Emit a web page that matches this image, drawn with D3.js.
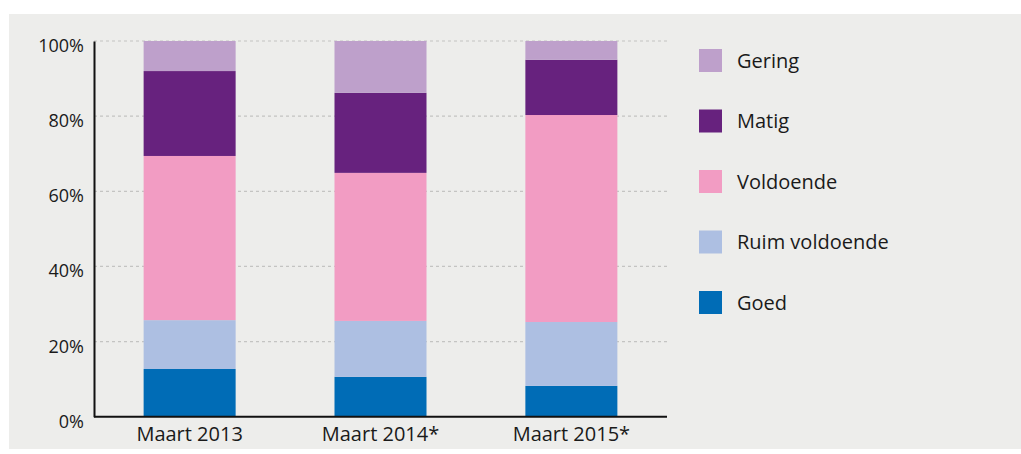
<!DOCTYPE html>
<html>
<head>
<meta charset="utf-8">
<script src="https://cdn.jsdelivr.net/npm/d3@7"></script>
<style>
  html, body { margin: 0; padding: 0; background: #ffffff; }
  svg { display: block; }
  text { font-family: "Open Sans", "Noto Sans", sans-serif; fill: #1a1a1a; }
</style>
</head>
<body>
<svg id="chart" width="1021" height="454"></svg>
<script>
// Periods on the x axis
const categories = ["Maart 2013", "Maart 2014*", "Maart 2015*"];

// Share (%) per rating, stacked bottom to top
const goed           = [12.7, 10.6, 8.2];
const ruimVoldoende  = [13.0, 14.9, 17.0];
const voldoende      = [43.7, 39.4, 55.1];
const matig          = [22.6, 21.3, 14.7];
const gering         = [8.0, 13.8, 5.0];

const seriesNames  = ["Goed", "Ruim voldoende", "Voldoende", "Matig", "Gering"];
const seriesValues = [goed, ruimVoldoende, voldoende, matig, gering];
const seriesColors = ["#006cb6", "#adbfe2", "#f29cc3", "#67227e", "#bea0cb"];

const yTicks = [0, 20, 40, 60, 80, 100];

const svg = d3.select("#chart");
const W = 1021, H = 454;

// panel background
svg.append("rect")
  .attr("x", 9).attr("y", 14)
  .attr("width", W - 9).attr("height", 435)
  .attr("fill", "#ededeb");

const margin = { left: 94, right: 667, top: 41, bottom: 416.7 };

const x = d3.scaleBand()
  .domain(categories)
  .range([margin.left, margin.right])
  .paddingInner(0.518)
  .paddingOuter(0.26);

const y = d3.scaleLinear()
  .domain([0, 100])
  .range([margin.bottom, margin.top]);

// table rows for the stack
const rows = categories.map((c, i) => {
  const r = { category: c };
  seriesNames.forEach((s, j) => { r[s] = seriesValues[j][i]; });
  return r;
});
const stacked = d3.stack().keys(seriesNames)(rows);

// dashed gridlines
svg.append("g")
  .selectAll("line")
  .data(yTicks.filter(t => t > 0))
  .join("line")
  .attr("x1", margin.left).attr("x2", margin.right)
  .attr("y1", d => y(d)).attr("y2", d => y(d))
  .attr("stroke", "#c4c4c2")
  .attr("stroke-width", 1.2)
  .attr("stroke-dasharray", "3,3");

// bars
const color = d3.scaleOrdinal().domain(seriesNames).range(seriesColors);
svg.append("g")
  .selectAll("g")
  .data(stacked)
  .join("g")
  .attr("fill", d => color(d.key))
  .selectAll("rect")
  .data(d => d)
  .join("rect")
  .attr("x", d => x(d.data.category))
  .attr("width", x.bandwidth())
  .attr("y", d => y(d[1]))
  .attr("height", d => y(d[0]) - y(d[1]));

// y axis
const yAxis = svg.append("g")
  .attr("transform", `translate(${margin.left},0)`)
  .call(d3.axisLeft(y).tickValues(yTicks).tickFormat(d => d + "%").tickSize(0).tickPadding(10));
yAxis.select(".domain").attr("stroke", "#111").attr("stroke-width", 2);
yAxis.selectAll("text")
  .attr("font-size", 18)
  .attr("dy", "0.58em")
  .attr("fill", "#1a1a1a");

// x axis
const xAxis = svg.append("g")
  .attr("transform", `translate(0,${margin.bottom})`)
  .call(d3.axisBottom(x).tickSize(0).tickPadding(10));
xAxis.select(".domain").attr("stroke", "#111").attr("stroke-width", 2)
  .attr("d", `M${margin.left},0H${margin.right}`);
xAxis.selectAll("text")
  .attr("font-size", 20)
  .attr("fill", "#1a1a1a");

// legend, top to bottom: Gering .. Goed
const legendOrder = seriesNames.slice().reverse();
const legend = svg.append("g")
  .selectAll("g")
  .data(legendOrder)
  .join("g")
  .attr("transform", (d, i) => `translate(699,${49 + i * 60.5})`);
legend.append("rect")
  .attr("width", 23).attr("height", 23)
  .attr("fill", d => color(d));
legend.append("text")
  .attr("x", 38).attr("y", 11.5)
  .attr("dy", "0.36em")
  .attr("font-size", 20)
  .text(d => d);
</script>
</body>
</html>
